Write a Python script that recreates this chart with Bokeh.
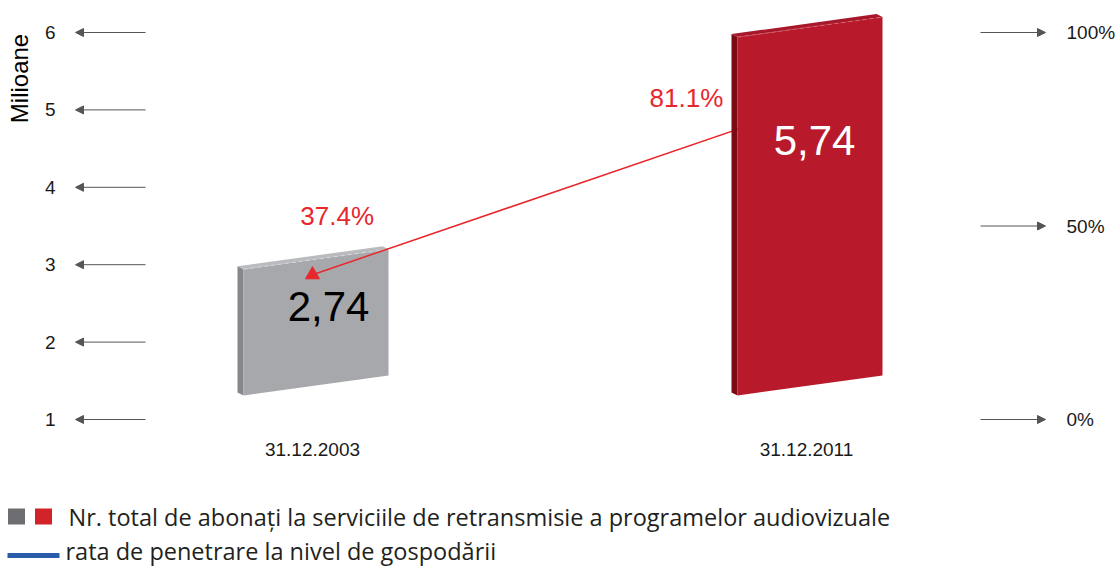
import math
from bokeh.plotting import figure
from bokeh.models import (ColumnDataSource, Range1d, LinearAxis, FixedTicker,
                          Arrow, NormalHead)
from bokeh.embed import file_html
from bokeh.resources import INLINE
from bokeh.core.properties import value

# ---------------- data ----------------
categories = ["31.12.2003", "31.12.2011"]
subscribers = [2.74, 5.74]            # milioane
subscriber_labels = ["2,74", "5,74"]
penetration = [37.4, 81.1]            # %
penetration_labels = ["37.4%", "81.1%"]
left_ticks = [1, 2, 3, 4, 5, 6]
right_ticks = [0, 50, 100]
right_tick_labels = ["0%", "50%", "100%"]
legend_bars_text = "Nr. total de abonați la serviciile de retransmisie a programelor audiovizuale"
legend_line_text = "rata de penetrare la nivel de gospodării"

# ---------------- styles ----------------
FONT_NAME = "Liberation Sans"
FONT = value(FONT_NAME)
LEG_FONT = value("Open Sans")
RED_LINE = "#E8272D"
ARROW_C = "#555555"
front_colors = ["#A7A8AC", "#B81A2B"]
side_colors = ["#86878B", "#7A0A14"]
top_colors = ["#BABBBE", "#A8182A"]
hi_colors = ["#D6D7DA", "#D4646F"]
label_colors = ["#000000", "#FFFFFF"]

W, H = 1120, 568
PX = 494.0   # px per category unit
PY = 77.4    # px per million
X0_PX, Y1_PX = 312.0, 419.0


def X(px):   # screen px -> x data (layout helper)
    return (px - X0_PX) / PX


def Y(py):   # screen px -> y data (layout helper)
    return 1 + (Y1_PX - py) / PY


BAR_W = 145 / PX
BAR_DX = 3.5 / PX
SKEW = 10 / PY
TOP_LIFT = 0.33
BAR_BASE = 1.44
DEPTH_X = -6 / PX
DEPTH_Y = 3 / PY
VAL_LABEL_DX = [16 / PX, 8 / PX]
VAL_LABEL_DY = [-0.28, -1.14]
PCT_LABEL_DX = [0.05, -0.243]
PCT_LABEL_DY = [15.1, 2.1]

y0, y1 = Y(H), Y(0)
p = figure(width=W, height=H, output_backend="svg", toolbar_location=None,
           x_range=Range1d(X(0), X(W)), y_range=Range1d(y0, y1),
           min_border=0, outline_line_color=None,
           background_fill_color="white", border_fill_color="white")
p.extra_y_ranges = {"pct": Range1d((y0 - 1) * 20, (y1 - 1) * 20)}
p.xgrid.visible = False
p.ygrid.visible = False


def style_axis(ax, size, standoff):
    ax.axis_line_color = None
    ax.major_tick_line_color = None
    ax.minor_tick_line_color = None
    ax.major_label_standoff = standoff
    ax.major_label_text_font = FONT_NAME
    ax.major_label_text_font_size = size
    ax.major_label_text_color = "#1a1a1a"


# x axis
xa = p.xaxis[0]
xa.ticker = FixedTicker(ticks=[0, 1])
xa.major_label_overrides = {i: c for i, c in enumerate(categories)}
xa.fixed_location = Y(430)
style_axis(xa, "19px", 6)

# left axis
ya = p.yaxis[0]
ya.ticker = FixedTicker(ticks=left_ticks)
ya.fixed_location = X(62)
style_axis(ya, "19px", 1)

# right axis
ra = LinearAxis(y_range_name="pct", ticker=FixedTicker(ticks=right_ticks),
                major_label_overrides={t: l for t, l in zip(right_ticks, right_tick_labels)},
                fixed_location=X(1058))
style_axis(ra, "19px", 2)
p.add_layout(ra, "right")

# arrow-style tick marks
lsrc = ColumnDataSource(dict(x0=[X(145)] * len(left_ticks), x1=[X(75)] * len(left_ticks), y=left_ticks))
p.add_layout(Arrow(end=NormalHead(size=8, fill_color=ARROW_C, line_color=ARROW_C),
                   x_start="x0", y_start="y", x_end="x1", y_end="y", source=lsrc,
                   line_color=ARROW_C, line_width=1))
rsrc = ColumnDataSource(dict(x0=[X(980)] * len(right_ticks), x1=[X(1045)] * len(right_ticks), y=right_ticks))
p.add_layout(Arrow(end=NormalHead(size=8, fill_color=ARROW_C, line_color=ARROW_C),
                   x_start="x0", y_start="y", x_end="x1", y_end="y", source=rsrc,
                   line_color=ARROW_C, line_width=1, y_range_name="pct"))


def draw_bar(i):
    v = subscribers[i]
    xc = i + BAR_DX
    xl, xr = xc - BAR_W / 2, xc + BAR_W / 2
    top = v + TOP_LIFT
    ylt, yrt = top - SKEW, top + SKEW
    ylb, yrb = BAR_BASE - SKEW, BAR_BASE + SKEW
    side = ([xl + DEPTH_X, xl, xl, xl + DEPTH_X], [ylb + DEPTH_Y, ylb, ylt, ylt + DEPTH_Y])
    topf = ([xl + DEPTH_X, xl, xr, xr + DEPTH_X], [ylt + DEPTH_Y, ylt, yrt, yrt + DEPTH_Y])
    front = ([xl, xr, xr, xl], [ylb, yrb, yrt, ylt])
    p.patches(xs=[side[0], topf[0], front[0]], ys=[side[1], topf[1], front[1]],
              fill_color=[side_colors[i], top_colors[i], front_colors[i]], line_color=None)
    p.line([xl, xr], [ylt, yrt], line_color=hi_colors[i], line_width=1, line_dash="4 3")


draw_bar(0)
# penetration line (right axis)
p.line(x=[0, 1], y=penetration, y_range_name="pct", line_color=RED_LINE, line_width=1.5)
draw_bar(1)
p.scatter(x=[0], y=[penetration[0]], y_range_name="pct", marker="triangle", size=14,
          fill_color=RED_LINE, line_color=RED_LINE)

# value labels
p.text(x=[i + VAL_LABEL_DX[i] for i in range(2)],
       y=[subscribers[i] + VAL_LABEL_DY[i] for i in range(2)],
       text=subscriber_labels, text_color=label_colors, text_font=FONT,
       text_font_size="42px", text_align="center", text_baseline="middle")
p.text(x=[i + PCT_LABEL_DX[i] for i in range(2)],
       y=[penetration[i] + PCT_LABEL_DY[i] for i in range(2)], y_range_name="pct",
       text=penetration_labels, text_color=RED_LINE, text_font=FONT,
       text_font_size="26px", text_align="center", text_baseline="middle")

# y axis title
p.text(x=[X(18.5)], y=[Y(78)], text=["Milioane"], angle=math.pi / 2,
       text_font=FONT, text_font_size="24px", text_align="center",
       text_baseline="middle", text_color="#000000")

# ---------------- legend ----------------
p.rect(x=[X(16), X(43)], y=[Y(516), Y(516)], width=17 / PX, height=16 / PY,
       fill_color=["#6D6E71", "#D2232A"], line_color=None)
p.line(x=[X(7), X(59)], y=[Y(555), Y(555)], line_color="#2A5CAA", line_width=5)
p.text(x=[X(68), X(65)], y=[Y(516), Y(550)], text=[legend_bars_text, legend_line_text],
       text_font=LEG_FONT, text_font_size="23.5px", text_color="#231F20",
       text_align="left", text_baseline="alphabetic")

open("out.html", "w").write(file_html(p, INLINE))
